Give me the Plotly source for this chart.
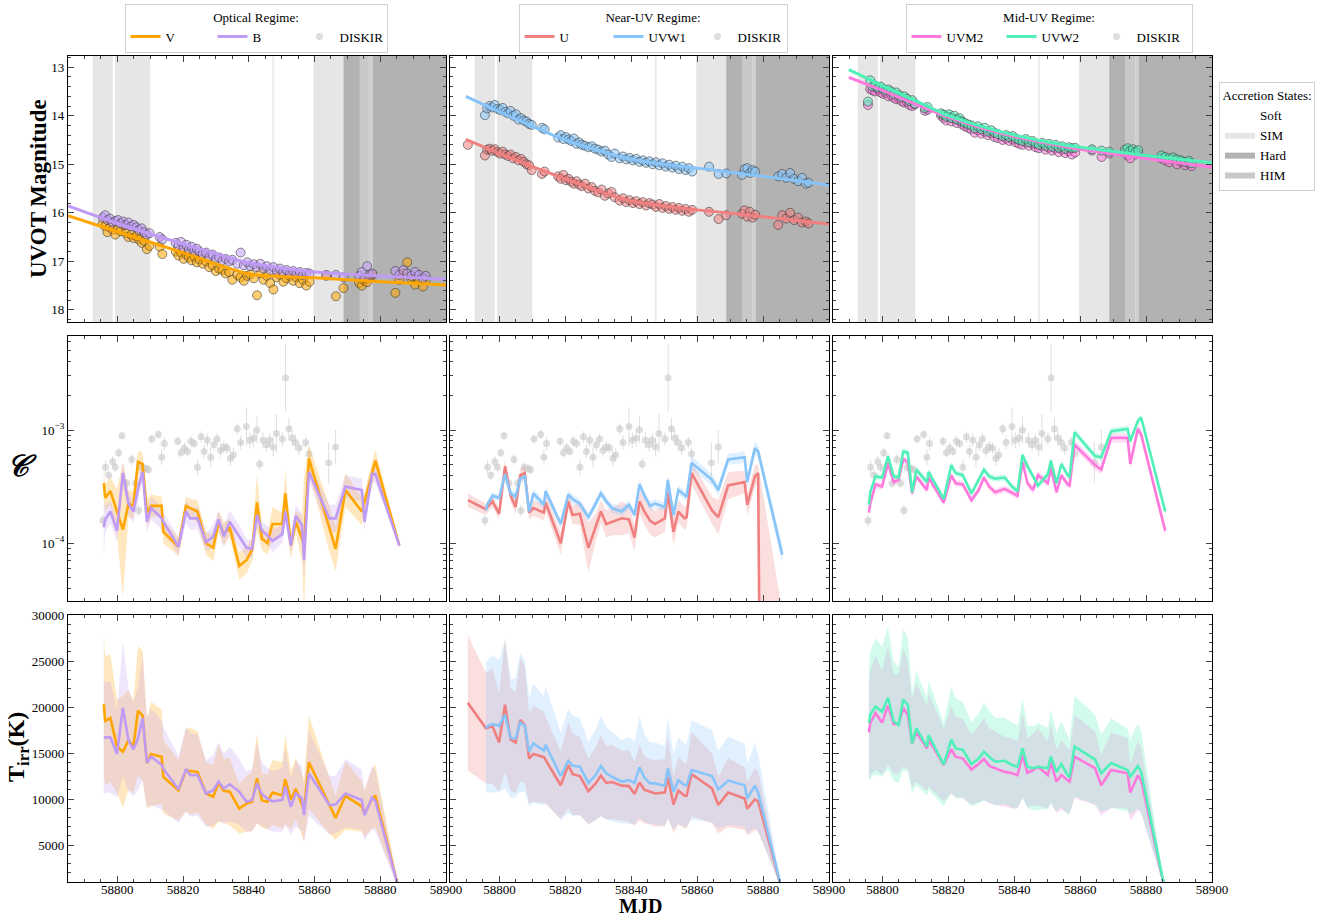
import plotly.graph_objects as go

FONT = "Liberation Serif"
W, H = 1331, 919

# ---------------- UVOT photometry (MJD, AB mag per filter) ----------------
obs_mjd = [58790.4,
           58795.6, 58796.3, 58797.0, 58797.8, 58798.6, 58799.4, 58800.2, 58801.0, 58801.8, 58802.6,
           58803.4, 58804.2, 58805.0, 58805.8, 58806.6, 58807.4, 58808.2, 58809.0, 58809.8, 58812.9,
           58813.7, 58817.8, 58818.6, 58819.4, 58820.2, 58821.0, 58821.8, 58822.6, 58823.4, 58824.2,
           58825.0, 58826.0, 58827.0, 58828.0, 58829.0, 58830.0, 58831.0, 58832.0, 58833.0, 58834.0,
           58835.0, 58836.5, 58837.5, 58838.5, 58839.5, 58840.5, 58841.5, 58842.5, 58843.5, 58844.5,
           58845.5, 58846.5, 58847.5, 58848.5, 58849.5, 58850.5, 58851.5, 58852.5, 58853.5, 58854.5,
           58855.5, 58856.5, 58857.5, 58858.5, 58863.6, 58866.5, 58868.8, 58873.6, 58874.4, 58875.2,
           58876.0, 58876.8, 58877.6, 58884.6, 58885.8, 58887.0, 58888.2, 58889.4, 58890.6, 58891.8,
           58893.0, 58893.8]

mag_v = [None,
         16.22, 16.28, 16.40, 16.30, 16.35, 16.45, 16.33, 16.38, 16.25, 16.42,
         16.50, 16.45, 16.52, 16.48, 16.55, 16.62, 16.58, 16.75, 16.68, 16.70,
         16.85, 16.80, 16.88, 16.82, 16.95, 16.86, 16.92, 16.98, 16.90, 17.02,
         16.96, 17.05, 17.00, 17.12, 17.08, 17.20, 17.15, 17.18, 17.25, 17.22,
         17.38, 17.28, 17.33, 17.40, 17.30, 17.27, 17.35, 17.70, 17.25, 17.38,
         17.30, 17.45, 17.58, 17.33, 17.28, 17.42, 17.35, 17.30, 17.40, 17.33,
         17.45, 17.38, 17.50, 17.42, 17.30, 17.72, 17.55, 17.45, 17.50, 17.40,
         17.43, 17.33, 17.28, 17.65, 17.38, 17.25, 17.02, 17.35, 17.48, 17.40,
         17.52, 17.38]

mag_b = [None,
         16.10, 16.05, 16.15, 16.12, 16.20, 16.17, 16.15, 16.22, 16.18, 16.25,
         16.20, 16.28, 16.25, 16.30, 16.35, 16.32, 16.40, 16.45, 16.42, 16.50,
         16.55, 16.62, 16.68, 16.60, 16.72, 16.66, 16.75, 16.70, 16.78, 16.74,
         16.80, 16.85, 16.82, 16.90, 16.86, 16.95, 16.92, 16.98, 16.95, 17.00,
         16.97, 17.05, 16.82, 17.08, 17.02, 17.10, 17.06, 17.12, 17.05, 17.15,
         17.10, 17.18, 17.12, 17.20, 17.15, 17.22, 17.18, 17.25, 17.20, 17.26,
         17.22, 17.28, 17.24, 17.25, 17.28, 17.28, 17.33, 17.30, 17.22, 17.35,
         17.10, 17.28, 17.25, 17.20, 17.28, 17.18, 17.25, 17.30, 17.22, 17.28,
         17.35, 17.30]

mag_u = [14.60,
         14.82, 14.70, 14.68, 14.72, 14.69, 14.75, 14.78, 14.74, 14.80, 14.83,
         14.80, 14.88, 14.85, 14.92, 14.89, 14.95, 15.00, 15.02, 15.12, 15.20,
         15.15, 15.25, 15.30, 15.22, 15.33, 15.30, 15.36, 15.40, 15.35, 15.42,
         15.45, 15.40, 15.50, 15.47, 15.55, 15.58, 15.52, 15.65, 15.60, 15.57,
         15.68, 15.75, 15.70, 15.78, 15.74, 15.80, 15.76, 15.82, 15.78, 15.85,
         15.80, 15.83, 15.88, 15.82, 15.90, 15.86, 15.92, 15.88, 15.94, 15.90,
         15.96, 15.92, 15.98, 15.94, 15.98, 16.13, 16.05, 16.02, 15.95, 16.08,
         15.98, 16.10, 16.04, 16.25, 16.05, 16.12, 16.00, 16.15, 16.10, 16.20,
         16.18, 16.22]

mag_uvw1 = [None,
            13.99, 13.85, 13.80, 13.83, 13.78, 13.86, 13.88, 13.84, 13.92, 13.95,
            13.90, 14.00, 13.97, 14.08, 14.05, 14.10, 14.12, 14.17, 14.19, 14.25,
            14.28, 14.45, 14.40, 14.48, 14.44, 14.49, 14.52, 14.47, 14.58, 14.55,
            14.60, 14.62, 14.65, 14.63, 14.68, 14.70, 14.74, 14.72, 14.80, 14.85,
            14.78, 14.88, 14.84, 14.90, 14.87, 14.92, 14.89, 14.95, 14.92, 14.97,
            14.94, 15.00, 14.96, 15.02, 14.98, 15.05, 15.01, 15.07, 15.03, 15.10,
            15.05, 15.12, 15.08, 15.15, 15.05, 15.20, 15.19, 15.22, 15.10, 15.08,
            15.18, 15.12, 15.15, 15.25, 15.20, 15.28, 15.18, 15.30, 15.35, 15.28,
            15.40, 15.38]

mag_uvm2 = [None,
            13.78, 13.45, 13.48, 13.50, 13.46, 13.52, 13.55, 13.53, 13.60, 13.58,
            13.63, 13.66, 13.64, 13.70, 13.73, 13.71, 13.78, 13.80, 13.77, 13.90,
            13.88, 14.00, 14.05, 14.10, 14.02, 14.12, 14.06, 14.15, 14.10, 14.18,
            14.22, 14.25, 14.28, 14.35, 14.30, 14.37, 14.33, 14.40, 14.36, 14.44,
            14.46, 14.50, 14.47, 14.52, 14.49, 14.55, 14.58, 14.60, 14.55, 14.62,
            14.58, 14.65, 14.67, 14.62, 14.70, 14.66, 14.72, 14.68, 14.75, 14.70,
            14.77, 14.73, 14.80, 14.76, 14.72, 14.85, 14.78, 14.76, 14.82, 14.88,
            14.74, 14.80, 14.78, 14.88, 14.92, 14.96, 14.90, 15.00, 14.95, 15.02,
            14.98, 15.04]

mag_uvw2 = [None,
            13.71, 13.27, 13.40, 13.38, 13.42, 13.40, 13.45, 13.48, 13.46, 13.50,
            13.55, 13.52, 13.58, 13.62, 13.60, 13.65, 13.70, 13.68, 13.75, 13.85,
            13.82, 13.95, 13.98, 14.02, 13.97, 14.05, 14.00, 14.08, 14.05, 14.12,
            14.15, 14.18, 14.20, 14.26, 14.22, 14.28, 14.25, 14.33, 14.30, 14.35,
            14.38, 14.42, 14.40, 14.44, 14.42, 14.47, 14.50, 14.52, 14.48, 14.55,
            14.52, 14.57, 14.60, 14.56, 14.62, 14.58, 14.64, 14.60, 14.66, 14.63,
            14.68, 14.65, 14.67, 14.66, 14.69, 14.72, 14.74, 14.70, 14.67, 14.72,
            14.69, 14.74, 14.71, 14.82, 14.85, 14.88, 14.86, 14.90, 14.92, 14.95,
            14.93, 14.98]

# Decay-model curves through the light curves
fit_mjd_opt = [58785, 58800, 58820, 58840, 58860, 58880, 58900]
fit_v = [16.06, 16.39, 16.82, 17.26, 17.34, 17.42, 17.49]
fit_b = [15.86, 16.22, 16.64, 17.03, 17.22, 17.30, 17.37]
fit_mjd_uv = [58789.8, 58800, 58810, 58820, 58830, 58840, 58850, 58860, 58880, 58900]
fit_u = [14.49, 14.78, 15.05, 15.30, 15.55, 15.76, 15.86, 15.94, 16.08, 16.23]
fit_uvw1 = [13.60, 13.92, 14.22, 14.50, 14.72, 14.90, 15.00, 15.08, 15.25, 15.43]
fit_uvm2 = [13.21, 13.48, 13.76, 14.03, 14.25, 14.43, 14.57, 14.69, 14.88, 15.06]
fit_uvw2 = [13.05, 13.38, 13.69, 14.00, 14.22, 14.40, 14.54, 14.65, 14.82, 14.97]

# ---------------- accretion-state intervals (MJD) ----------------
state_start = [58792.5, 58799.3, 58799.3, 58847.2, 58859.7, 58868.8, 58873.8, 58876.4, 58876.8, 58877.7]
state_end = [58798.6, 58810.0, 58799.9, 58847.7, 58868.8, 58873.8, 58876.4, 58876.8, 58877.7, 58900.0]
state_name = ["SIM", "SIM", "SIM", "SIM", "SIM", "Hard", "HIM", "Hard", "HIM", "Hard"]

# ---------------- irradiation fits per epoch ----------------
epoch_mjd = [58790.4, 58795.9, 58796.3, 58797.9, 58799.9, 58801.7, 58803.4, 58804.9, 58806.3, 58807.7,
             58809.0, 58810.3, 58813.5, 58814.0, 58818.6, 58820.9, 58822.2, 58824.4, 58827.0, 58829.2,
             58830.8, 58832.4, 58834.2, 58837.1, 58839.3, 58841.0, 58842.5, 58844.0, 58845.7, 58847.2,
             58850.2, 58851.1, 58852.8, 58854.3, 58856.2, 58856.8, 58858.3, 58864.5, 58866.4, 58869.4,
             58874.4, 58875.2, 58877.5, 58878.5, 58885.8]

# log10 of the irradiation parameter C
logc_v = [None, -3.47, -3.60, -3.54, -3.72, -3.88, -3.65, -3.67, -3.28, -3.30,
          -3.73, -3.67, -3.67, -3.90, -4.03, -3.67, -3.69, -3.72, -4.00, -4.04,
          -3.81, -3.92, -3.86, -4.20, -4.15, -4.06, -3.64, -3.96, -4.00, -3.83,
          -3.83, -3.56, -4.02, -3.81, -3.96, -4.02, -3.25, -3.87, -4.05, -3.53,
          -3.72, -3.64, -3.39, -3.27, -4.02]
logc_b = [None, -3.86, -3.79, -3.72, -3.89, -3.38, -3.65, -3.72, -3.52, -3.37,
          -3.81, -3.69, -3.78, -3.81, -4.03, -3.72, -3.78, -3.78, -3.99, -3.94,
          -3.79, -3.94, -3.81, -3.94, -4.04, -4.05, -3.75, -3.89, -3.93, -3.98,
          -3.92, -3.72, -4.02, -3.76, -3.84, -4.15, -3.37, -3.78, -3.78, -3.50,
          -3.53, -3.81, -3.39, -3.39, -4.02]
logc_u = [-3.62, -3.70, -3.68, -3.63, -3.74, -3.32, -3.58, -3.68, -3.40, -3.38,
          -3.73, -3.69, -3.73, -3.64, -4.00, -3.63, -3.75, -3.74, -4.04, -3.86,
          -3.72, -3.83, -3.81, -3.78, -3.79, -3.95, -3.63, -3.72, -3.80, -3.83,
          -3.78, -3.55, -3.90, -3.72, -3.78, -3.77, -3.38, -3.71, -3.77, -3.49,
          -3.46, -3.66, -3.41, -3.38, -30.0]
logc_uvw1 = [None, -3.71, -3.66, -3.58, -3.60, -3.39, -3.56, -3.59, -3.43, -3.41,
             -3.72, -3.56, -3.66, -3.54, -3.83, -3.57, -3.61, -3.65, -3.77, -3.65,
             -3.56, -3.63, -3.69, -3.72, -3.66, -3.75, -3.48, -3.58, -3.67, -3.65,
             -3.68, -3.44, -3.75, -3.53, -3.58, -3.59, -3.29, -3.44, -3.53, -3.26,
             -3.24, -3.46, -3.16, -3.19, -4.10]
logc_uvm2 = [None, -3.73, -3.65, -3.48, -3.50, -3.29, -3.46, -3.44, -3.26, -3.28,
             -3.56, -3.41, -3.53, -3.42, -3.64, -3.40, -3.47, -3.48, -3.62, -3.53,
             -3.42, -3.50, -3.55, -3.52, -3.55, -3.58, -3.28, -3.47, -3.53, -3.40,
             -3.47, -3.33, -3.55, -3.40, -3.48, -3.49, -3.13, -3.31, -3.35, -3.07,
             -3.07, -3.30, -2.99, -3.04, -3.89]
logc_uvw2 = [None, -3.66, -3.55, -3.41, -3.42, -3.23, -3.41, -3.42, -3.19, -3.20,
             -3.55, -3.35, -3.46, -3.37, -3.61, -3.31, -3.38, -3.40, -3.56, -3.44,
             -3.35, -3.41, -3.43, -3.42, -3.50, -3.54, -3.22, -3.32, -3.41, -3.49,
             -3.39, -3.27, -3.47, -3.30, -3.40, -3.41, -3.02, -3.23, -3.24, -3.01,
             -2.99, -3.10, -2.92, -2.89, -3.72]

# 1-sigma uncertainties on log10 C (dex)
dlogc_v = [None, 0.15, 0.12, 0.12, 0.20, 0.60, 0.12, 0.12, 0.10, 0.10,
           0.12, 0.10, 0.08, 0.10, 0.08, 0.08, 0.08, 0.10, 0.10, 0.12,
           0.10, 0.10, 0.08, 0.12, 0.12, 0.10, 0.25, 0.10, 0.10, 0.15,
           0.10, 0.20, 0.12, 0.10, 0.20, 0.60, 0.12, 0.20, 0.20, 0.15,
           0.12, 0.10, 0.12, 0.10, 0.02]
dlogc_b = [None, 0.25, 0.12, 0.10, 0.10, 0.10, 0.10, 0.10, 0.10, 0.08,
           0.10, 0.10, 0.10, 0.08, 0.08, 0.10, 0.10, 0.10, 0.08, 0.10,
           0.08, 0.10, 0.10, 0.10, 0.08, 0.08, 0.10, 0.08, 0.08, 0.10,
           0.08, 0.10, 0.08, 0.10, 0.10, 0.15, 0.08, 0.12, 0.12, 0.10,
           0.10, 0.08, 0.08, 0.08, 0.02]
dlogc_u = [0.06, 0.05, 0.05, 0.05, 0.05, 0.06, 0.06, 0.06, 0.06, 0.06,
           0.06, 0.07, 0.07, 0.08, 0.10, 0.08, 0.08, 0.10, 0.22, 0.12,
           0.10, 0.12, 0.12, 0.15, 0.12, 0.12, 0.10, 0.12, 0.12, 0.12,
           0.12, 0.12, 0.12, 0.10, 0.10, 0.10, 0.10, 0.12, 0.15, 0.12,
           0.10, 0.10, 0.10, 0.08, 25.4]
dlogc_uvw1 = [None, 0.03, 0.03, 0.03, 0.03, 0.04, 0.04, 0.04, 0.04, 0.04,
              0.04, 0.04, 0.04, 0.04, 0.04, 0.04, 0.04, 0.04, 0.04, 0.04,
              0.04, 0.04, 0.04, 0.04, 0.04, 0.04, 0.04, 0.04, 0.04, 0.04,
              0.04, 0.04, 0.05, 0.04, 0.04, 0.04, 0.06, 0.05, 0.05, 0.05,
              0.05, 0.05, 0.06, 0.06, 0.08]
dlogc_uvm2 = [None, 0.04, 0.03, 0.03, 0.03, 0.03, 0.03, 0.03, 0.03, 0.03,
              0.03, 0.03, 0.03, 0.03, 0.03, 0.03, 0.03, 0.03, 0.03, 0.03,
              0.03, 0.03, 0.03, 0.03, 0.03, 0.03, 0.03, 0.03, 0.04, 0.04,
              0.03, 0.03, 0.03, 0.03, 0.03, 0.03, 0.04, 0.04, 0.04, 0.04,
              0.04, 0.04, 0.04, 0.04, 0.05]
dlogc_uvw2 = [None, 0.04, 0.03, 0.03, 0.03, 0.03, 0.03, 0.03, 0.03, 0.03,
              0.03, 0.03, 0.03, 0.03, 0.03, 0.03, 0.03, 0.03, 0.03, 0.03,
              0.03, 0.03, 0.03, 0.03, 0.03, 0.03, 0.03, 0.03, 0.03, 0.03,
              0.03, 0.03, 0.03, 0.03, 0.03, 0.03, 0.03, 0.03, 0.03, 0.03,
              0.03, 0.03, 0.03, 0.03, 0.04]

# Irradiation temperature (K) and fractional 1-sigma widths
tirr_v = [None, 20300, 18500, 18800, 15700, 15150, 16400, 15700, 19600, 19050,
          13900, 14900, 14600, 12400, 10950, 13100, 13050, 12950, 10600, 10250,
          11750, 10900, 10800, 8950, 9500, 9700, 12250, 9850, 9700, 10700,
          10400, 12150, 9900, 11100, 9400, 8800, 14000, 9300, 7950, 10350,
          9200, 8400, 10000, 10350, 0]
tirr_b = [None, 16700, 16700, 16700, 14900, 19900, 16400, 15400, 16600, 18800,
          13950, 14600, 13700, 13300, 11050, 13250, 12600, 12600, 10600, 10950,
          11900, 11150, 11600, 10800, 9700, 9900, 11700, 10500, 10050, 9750,
          9900, 11350, 9150, 10600, 10050, 8250, 12800, 9350, 9400, 10600,
          9900, 8250, 10150, 9800, 0]
tirr_u = [20450, 17700, 17750, 17900, 16150, 20250, 16450, 16150, 18600, 18050,
          14400, 14900, 14550, 14250, 11500, 13700, 12700, 12500, 10850, 11700,
          12550, 11750, 11850, 11450, 11400, 10550, 11800, 11000, 10800, 10600,
          10700, 12400, 9400, 10900, 10350, 10350, 12700, 11150, 9350, 10700,
          10050, 8950, 9950, 9750, 0]
tirr_uvw1 = [None, 17700, 17900, 18150, 17950, 19150, 16600, 16600, 18300, 17950,
             15150, 16050, 15250, 15900, 12500, 14150, 13600, 13500, 11750, 12600,
             13600, 12800, 12400, 11900, 12050, 11750, 13450, 12300, 11700, 11700,
             11450, 13350, 10800, 12050, 11500, 11500, 13150, 12500, 11050, 12000,
             11500, 10050, 11450, 10700, 0]
tirr_uvm2 = [None, 17250, 18250, 19350, 18300, 20150, 18150, 18150, 19900, 19150,
             16050, 17250, 15500, 16450, 13700, 15400, 14600, 14400, 13200, 13800,
             14350, 13600, 13350, 12950, 12800, 12600, 14800, 12850, 13150, 13500,
             12600, 13950, 11900, 12600, 12050, 11900, 14600, 13350, 11500, 13150,
             12800, 10700, 12550, 12050, 0]
tirr_uvw2 = [None, 18250, 19150, 20050, 19500, 21000, 18450, 18050, 20800, 20250,
             16050, 17700, 15700, 16950, 13750, 16450, 15500, 15350, 13800, 14400,
             15150, 14600, 14050, 14150, 13700, 13500, 15500, 13500, 13350, 13500,
             13350, 14600, 12950, 13800, 12600, 12400, 15700, 14300, 12800, 13900,
             13150, 12400, 13600, 12950, 0]

terr_v = [None, 0.37, 0.38, 0.37, 0.32, 0.40, 0.33, 0.32, 0.36, 0.37,
          0.35, 0.38, 0.35, 0.32, 0.30, 0.34, 0.36, 0.34, 0.32, 0.34,
          0.36, 0.32, 0.34, 0.30, 0.32, 0.33, 0.40, 0.30, 0.31, 0.33,
          0.35, 0.40, 0.32, 0.30, 0.36, 0.38, 0.36, 0.33, 0.30, 0.36,
          0.30, 0.30, 0.32, 0.33, 0.0]
terr_b = [None, 0.38, 0.36, 0.36, 0.32, 0.37, 0.34, 0.33, 0.34, 0.36,
          0.35, 0.36, 0.35, 0.34, 0.33, 0.35, 0.36, 0.35, 0.34, 0.35,
          0.36, 0.34, 0.35, 0.33, 0.34, 0.34, 0.37, 0.33, 0.33, 0.34,
          0.35, 0.37, 0.33, 0.34, 0.35, 0.36, 0.36, 0.34, 0.33, 0.35,
          0.33, 0.33, 0.34, 0.34, 0.0]
terr_u = [0.36, 0.34, 0.34, 0.35, 0.33, 0.36, 0.34, 0.34, 0.36, 0.35,
          0.34, 0.35, 0.34, 0.33, 0.32, 0.34, 0.35, 0.34, 0.33, 0.34,
          0.35, 0.34, 0.34, 0.33, 0.34, 0.33, 0.35, 0.33, 0.33, 0.34,
          0.34, 0.36, 0.33, 0.34, 0.34, 0.34, 0.36, 0.34, 0.33, 0.35,
          0.34, 0.33, 0.34, 0.34, 0.0]
terr_uvw1 = [None, 0.40, 0.40, 0.41, 0.40, 0.42, 0.39, 0.39, 0.41, 0.40,
             0.39, 0.40, 0.39, 0.40, 0.38, 0.40, 0.40, 0.39, 0.38, 0.39,
             0.40, 0.39, 0.39, 0.38, 0.39, 0.38, 0.41, 0.39, 0.38, 0.38,
             0.38, 0.41, 0.38, 0.39, 0.39, 0.39, 0.41, 0.40, 0.38, 0.40,
             0.39, 0.38, 0.40, 0.39, 0.0]
terr_uvm2 = [None, 0.31, 0.31, 0.32, 0.31, 0.32, 0.30, 0.30, 0.32, 0.31,
             0.30, 0.31, 0.30, 0.31, 0.29, 0.31, 0.30, 0.30, 0.29, 0.30,
             0.31, 0.30, 0.30, 0.29, 0.30, 0.29, 0.31, 0.29, 0.30, 0.31,
             0.29, 0.31, 0.29, 0.30, 0.30, 0.29, 0.31, 0.30, 0.29, 0.31,
             0.30, 0.29, 0.30, 0.30, 0.0]
terr_uvw2 = [None, 0.35, 0.36, 0.37, 0.36, 0.37, 0.35, 0.35, 0.37, 0.36,
             0.34, 0.35, 0.34, 0.35, 0.33, 0.35, 0.35, 0.34, 0.33, 0.34,
             0.35, 0.34, 0.34, 0.33, 0.34, 0.33, 0.35, 0.33, 0.34, 0.35,
             0.33, 0.35, 0.33, 0.34, 0.34, 0.33, 0.35, 0.34, 0.33, 0.35,
             0.34, 0.33, 0.34, 0.34, 0.0]

# DISKIR irradiation parameter from the X-ray spectral fits
diskir_mjd = [58795.6, 58796.4, 58797.4, 58798.6, 58799.4, 58800.4, 58801.4, 58802.9, 58804.4, 58805.5,
              58806.5, 58807.5, 58808.7, 58809.5, 58810.5, 58812.5, 58813.5, 58814.3, 58818.4, 58819.4,
              58820.4, 58821.4, 58822.4, 58823.4, 58824.4, 58825.5, 58826.4, 58827.4, 58828.4, 58829.4,
              58830.4, 58831.4, 58832.4, 58833.4, 58834.4, 58835.3, 58836.5, 58837.5, 58839.3, 58840.3,
              58841.5, 58842.5, 58843.3, 58844.3, 58845.4, 58846.4, 58847.4, 58848.4, 58850.2, 58851.2,
              58852.2, 58853.2, 58854.2, 58855.3, 58857.3, 58858.3, 58864.3, 58866.4]
diskir_logc = [-3.80, -3.33, -3.40, -3.28, -3.33, -3.20, -3.05, -3.47, -3.26, -3.47,
               -3.71, -3.33, -3.34, -3.35, -3.08, -3.04, -3.24, -3.12, -3.10, -3.20,
               -3.16, -3.19, -3.10, -3.12, -3.33, -3.06, -3.19, -3.09, -3.24, -3.13,
               -3.08, -3.18, -3.15, -3.16, -3.25, -3.22, -2.99, -3.11, -2.97, -3.09,
               -3.07, -3.00, -3.30, -3.09, -3.13, -3.09, -3.15, -3.03, -3.08, -2.54,
               -2.99, -3.07, -3.11, -3.16, -3.11, -3.21, -3.29, -3.15]
diskir_dlogc = [0.05, 0.06, 0.04, 0.05, 0.04, 0.04, 0.03, 0.04, 0.05, 0.04,
                0.05, 0.04, 0.04, 0.04, 0.04, 0.04, 0.07, 0.06, 0.04, 0.04,
                0.05, 0.04, 0.05, 0.04, 0.07, 0.05, 0.06, 0.06, 0.09, 0.06,
                0.05, 0.06, 0.05, 0.05, 0.07, 0.06, 0.05, 0.06, 0.17, 0.07,
                0.08, 0.12, 0.05, 0.07, 0.06, 0.06, 0.08, 0.17, 0.06, 0.30,
                0.10, 0.07, 0.07, 0.06, 0.05, 0.06, 0.18, 0.15]

# ---------------- styling ----------------
COLORS = {"V": "#FFA500", "B": "#BF9BF5", "U": "#F08080", "UVW1": "#87C4FA",
          "UVM2": "#FF78DC", "UVW2": "#50F0B8"}
STATE_FILL = {"Soft": "#FFFFFF", "SIM": "#E6E6E6", "Hard": "#B2B2B2", "HIM": "#C8C8C8"}


def rgba(hexcol, a):
    h = hexcol.lstrip("#")
    r, g, b = int(h[0:2], 16), int(h[2:4], 16), int(h[4:6], 16)
    return f"rgba({r},{g},{b},{a})"


col_dom = [(68 / W, 446 / W), (450 / W, 829 / W), (833 / W, 1212 / W)]
row_dom = [(1 - 322 / H, 1 - 56 / H), (1 - 601 / H, 1 - 336 / H), (1 - 882 / H, 1 - 615 / H)]


def ax_id(r, c):
    k = r * 3 + c + 1
    return "" if k == 1 else str(k)


fig = go.Figure()


def xy(r, c):
    s = ax_id(r, c)
    return dict(xaxis="x" + s, yaxis="y" + s)


# ---- row 1: light curves ----
columns = [
    (["V", "B"], [mag_v, mag_b], fit_mjd_opt, [fit_v, fit_b], "legend"),
    (["U", "UVW1"], [mag_u, mag_uvw1], fit_mjd_uv, [fit_u, fit_uvw1], "legend2"),
    (["UVM2", "UVW2"], [mag_uvm2, mag_uvw2], fit_mjd_uv, [fit_uvm2, fit_uvw2], "legend3"),
]
for c, (names, mags, fx, fits, leg) in enumerate(columns):
    for name, m in zip(names, mags):
        fig.add_trace(go.Scatter(
            x=obs_mjd, y=m, mode="markers", showlegend=False, hoverinfo="skip",
            marker=dict(size=9, color=rgba(COLORS[name], 0.55),
                        line=dict(color="rgba(50,50,50,0.55)", width=1)),
            **xy(0, c)))
    for i, (name, f) in enumerate(zip(names, fits)):
        fig.add_trace(go.Scatter(
            x=fx, y=f, mode="lines", name=name, legend=leg, legendrank=i + 1,
            line=dict(color=COLORS[name], width=3, shape="spline", smoothing=0.6),
            **xy(0, c)))


def clean(xs, ys):
    px, py = [], []
    for a, b in zip(xs, ys):
        if b is not None:
            px.append(a)
            py.append(b)
    return px, py


# ---- row 2: irradiation parameter C ----
crow = [
    (["V", "B"], [logc_v, logc_b], [dlogc_v, dlogc_b]),
    (["U", "UVW1"], [logc_u, logc_uvw1], [dlogc_u, dlogc_uvw1]),
    (["UVM2", "UVW2"], [logc_uvm2, logc_uvw2], [dlogc_uvm2, dlogc_uvw2]),
]
legs = ["legend", "legend2", "legend3"]
for c, (names, logs, errs) in enumerate(crow):
    # DISKIR values from the X-ray fits
    dk = [10 ** v for v in diskir_logc]
    dk_hi = [10 ** (v + e) - 10 ** v for v, e in zip(diskir_logc, diskir_dlogc)]
    dk_lo = [10 ** v - 10 ** (v - e) for v, e in zip(diskir_logc, diskir_dlogc)]
    fig.add_trace(go.Scatter(
        x=diskir_mjd, y=dk, mode="markers", name="DISKIR", legend=legs[c], legendrank=3,
        marker=dict(size=7, color="rgba(200,200,200,0.6)"),
        error_y=dict(type="data", symmetric=False, array=dk_hi, arrayminus=dk_lo,
                     color="rgba(200,200,200,0.6)", thickness=1, width=0),
        **xy(1, c)))
    for name, lg, dl in zip(names, logs, errs):
        ex, ly = clean(epoch_mjd, lg)
        _, de = clean(epoch_mjd, dl)
        up = [10 ** (a + b) for a, b in zip(ly, de)]
        lo = [10 ** (a - b) for a, b in zip(ly, de)]
        fig.add_trace(go.Scatter(x=ex, y=up, mode="lines", line=dict(width=0),
                                 showlegend=False, hoverinfo="skip", **xy(1, c)))
        fig.add_trace(go.Scatter(x=ex, y=lo, mode="lines", line=dict(width=0), fill="tonexty",
                                 fillcolor=rgba(COLORS[name], 0.25),
                                 showlegend=False, hoverinfo="skip", **xy(1, c)))
    for name, lg in zip(names, logs):
        ex, ly = clean(epoch_mjd, lg)
        fig.add_trace(go.Scatter(x=ex, y=[10 ** a for a in ly], mode="lines", showlegend=False,
                                 line=dict(color=COLORS[name], width=2.6), **xy(1, c)))

# ---- row 3: irradiation temperature ----
trow = [
    (["V", "B"], [tirr_v, tirr_b], [terr_v, terr_b]),
    (["U", "UVW1"], [tirr_u, tirr_uvw1], [terr_u, terr_uvw1]),
    (["UVM2", "UVW2"], [tirr_uvm2, tirr_uvw2], [terr_uvm2, terr_uvw2]),
]
for c, (names, temps, ferrs) in enumerate(trow):
    for name, t, fe in zip(names, temps, ferrs):
        ex, ty = clean(epoch_mjd, t)
        _, fy = clean(epoch_mjd, fe)
        up = [a * (1 + b) for a, b in zip(ty, fy)]
        lo = [a * (1 - b) for a, b in zip(ty, fy)]
        fig.add_trace(go.Scatter(x=ex, y=up, mode="lines", line=dict(width=0),
                                 showlegend=False, hoverinfo="skip", **xy(2, c)))
        fig.add_trace(go.Scatter(x=ex, y=lo, mode="lines", line=dict(width=0), fill="tonexty",
                                 fillcolor=rgba(COLORS[name], 0.25),
                                 showlegend=False, hoverinfo="skip", **xy(2, c)))
    for name, t in zip(names, temps):
        ex, ty = clean(epoch_mjd, t)
        fig.add_trace(go.Scatter(x=ex, y=ty, mode="lines", showlegend=False,
                                 line=dict(color=COLORS[name], width=2.6), **xy(2, c)))

# ---- accretion-state legend entries ----
for i, st in enumerate(["Soft", "SIM", "Hard", "HIM"]):
    fig.add_trace(go.Scatter(
        x=[None], y=[None], mode="lines", fill="toself", name=st, legend="legend4",
        legendrank=i + 1, fillcolor=STATE_FILL[st], line=dict(width=0, color=STATE_FILL[st]),
        **xy(0, 0)))

# ---- accretion-state shading in the light-curve panels ----
shapes = []
for c in range(3):
    s = ax_id(0, c)
    for x0, x1, st in zip(state_start, state_end, state_name):
        shapes.append(dict(type="rect", xref="x" + s, yref=f"y{s} domain", x0=x0, x1=x1,
                           y0=0, y1=1, fillcolor=STATE_FILL[st], opacity=0.85 if x1 - x0 < 1 else 1,
                           line=dict(width=0), layer="below"))

# ---- axes ----
tick_font = dict(family=FONT, size=13, color="black")
minor_log = [v * 10 ** e for e in (-5, -4, -3) for v in range(2, 10)]
layout_axes = {}
for r in range(3):
    for c in range(3):
        s = ax_id(r, c)
        xa = dict(domain=col_dom[c], anchor="y" + s, range=[58785, 58900],
                  tick0=58800, dtick=20, tickformat="d", ticks="inside", ticklen=6, tickwidth=1.2,
                  minor=dict(dtick=5, tick0=58785, ticks="inside", ticklen=3, tickwidth=1),
                  mirror="allticks", showline=True, linecolor="black", linewidth=1.3,
                  showgrid=False, zeroline=False, showticklabels=(r == 2), tickfont=tick_font,
                  ticklabelstandoff=-5)
        ya = dict(domain=row_dom[r], anchor="x" + s, ticks="inside", ticklen=6, tickwidth=1.2,
                  mirror="allticks", showline=True, linecolor="black", linewidth=1.3,
                  showgrid=False, zeroline=False, showticklabels=(c == 0), tickfont=tick_font)
        if r == 0:
            ya.update(range=[18.25, 12.77], tick0=13, dtick=1,
                      minor=dict(dtick=0.2, ticks="inside", ticklen=3, tickwidth=1))
        elif r == 1:
            ya.update(type="log", range=[-4.51, -2.17], tickmode="array",
                      tickvals=[1e-4, 1e-3], ticktext=["10<sup>\u22124</sup>", "10<sup>\u22123</sup>"],
                      minor=dict(tickmode="array", tickvals=minor_log, ticks="inside",
                                 ticklen=3, tickwidth=1))
        else:
            ya.update(range=[980, 30000], tick0=5000, dtick=5000, tickformat="d",
                      minor=dict(dtick=1000, tick0=0, ticks="inside", ticklen=3, tickwidth=1))
        layout_axes["xaxis" + s] = xa
        layout_axes["yaxis" + s] = ya

legend_common = dict(orientation="h", yanchor="top", y=0.996, xanchor="center",
                     bgcolor="white", bordercolor="#d0d0d0", borderwidth=1, traceorder="normal",
                     font=dict(family=FONT, size=13, color="black"),
                     itemwidth=30, entrywidthmode="pixels", tracegroupgap=0)

fig.update_layout(
    width=W, height=H, margin=dict(l=0, r=0, t=0, b=0, autoexpand=False),
    paper_bgcolor="white", plot_bgcolor="white",
    font=dict(family=FONT, size=13, color="black"),
    shapes=shapes,
    legend=dict(legend_common, x=256 / W, entrywidth=42,
                title=dict(text="Optical Regime:", side="top center", font=dict(family=FONT, size=13))),
    legend2=dict(legend_common, x=653 / W, entrywidth=44,
                 title=dict(text="Near-UV Regime:", side="top center", font=dict(family=FONT, size=13))),
    legend3=dict(legend_common, x=1049 / W, entrywidth=50,
                 title=dict(text="Mid-UV Regime:", side="top center", font=dict(family=FONT, size=13))),
    legend4=dict(orientation="v", yanchor="top", y=1 - 82 / H, xanchor="left", x=1219 / W,
                 bgcolor="white", bordercolor="#d0d0d0", borderwidth=1, traceorder="normal",
                 font=dict(family=FONT, size=13, color="black"), itemwidth=30,
                 title=dict(text="Accretion States:", side="top center", font=dict(family=FONT, size=13))),
    annotations=[
        dict(text="<b>UVOT Magnitude</b>", x=38 / W, y=1 - 189 / H, xref="paper", yref="paper",
             xanchor="center", yanchor="middle",
             textangle=-90, showarrow=False, font=dict(family=FONT, size=23, color="black")),
        dict(text="<b><i>\U0001D49E</i></b>", x=22 / W, y=1 - 466 / H, xref="paper", yref="paper",
             xanchor="center", yanchor="middle",
             showarrow=False, font=dict(family=FONT, size=30, color="black")),
        dict(text="<b>T<sub>irr</sub>(K)</b>", x=18 / W, y=1 - 747 / H, xref="paper", yref="paper",
             xanchor="center", yanchor="middle",
             textangle=-90, showarrow=False, font=dict(family=FONT, size=24, color="black")),
        dict(text="<b>MJD</b>", x=640 / W, y=0.0, xref="paper", yref="paper",
             xanchor="center", yanchor="bottom",
             showarrow=False, font=dict(family=FONT, size=20, color="black")),
    ],
    **layout_axes,
)

fig.write_html("out.html")
